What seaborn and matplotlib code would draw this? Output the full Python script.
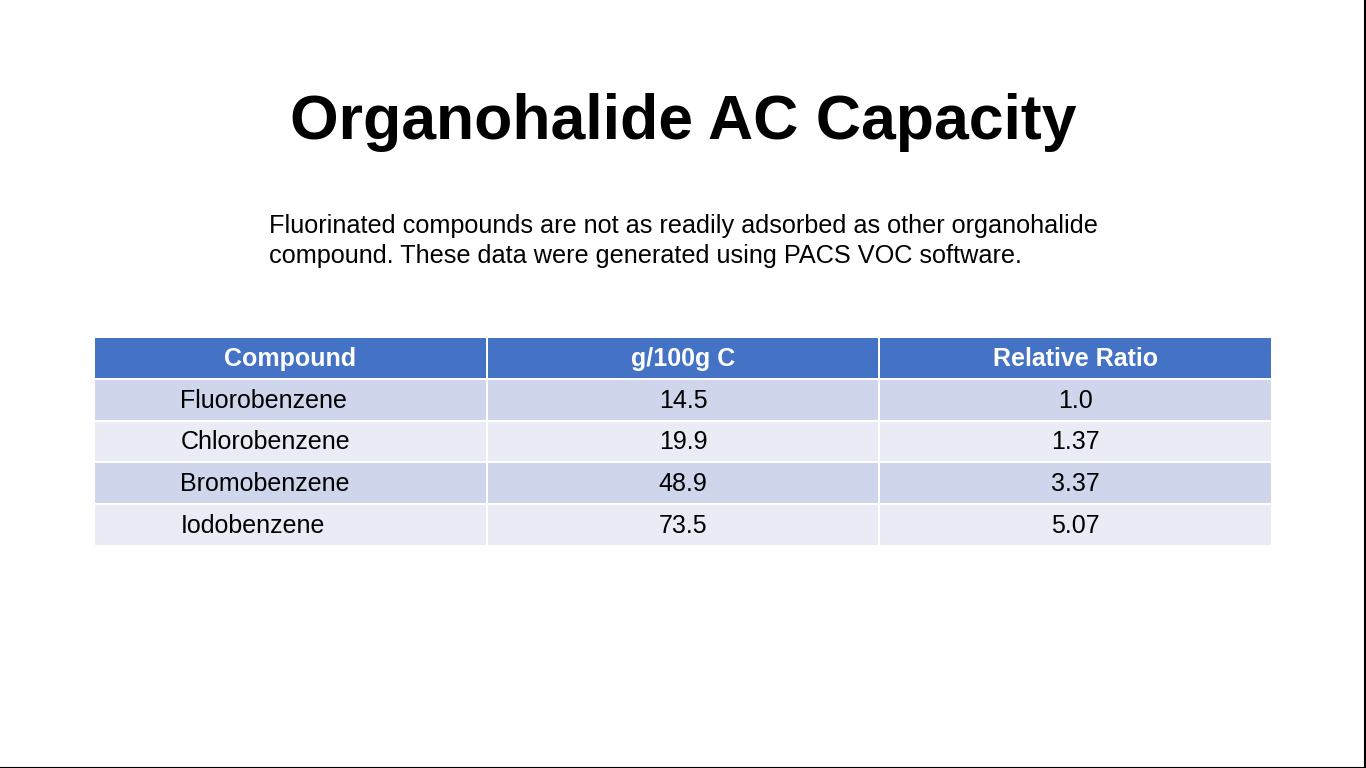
import numpy as np
import pandas as pd
import matplotlib
matplotlib.use("Agg")
import matplotlib.pyplot as plt
from matplotlib.colors import ListedColormap
import seaborn as sns

# table content
columns = ["Compound", "g/100g C", "Relative Ratio"]
compounds = ["Fluorobenzene", "Chlorobenzene", "Bromobenzene", "Iodobenzene"]
capacity = ["14.5", "19.9", "48.9", "73.5"]
ratio = ["1.0", "1.37", "3.37", "5.07"]

title = "Organohalide AC Capacity"
note = ("Fluorinated compounds are not as readily adsorbed as other organohalide\n"
        "compound. These data were generated using PACS VOC software.")

sns.set_theme(style="white")
plt.rcParams["font.family"] = ["Liberation Sans", "DejaVu Sans"]

W, H = 1366, 768
fig = plt.figure(figsize=(W / 100, H / 100), dpi=100)
fig.patch.set_facecolor("white")

fig.text(683 / W, 1 - 122 / H, title, ha="center", va="center",
         fontsize=45, fontweight="bold", color="black")
fig.text(269 / W, 1 - 241 / H, note, ha="left", va="center",
         fontsize=18.2, color="black", linespacing=1.3)

# band index per cell: 0 header, 1 dark stripe, 2 light stripe
n_rows = len(compounds) + 1
bands = np.zeros((n_rows, len(columns)))
for i in range(1, n_rows):
    bands[i, :] = 1 if i % 2 == 1 else 2
band_df = pd.DataFrame(bands, columns=columns)

ax = fig.add_axes([94 / W, 1 - 546 / H, (1272 - 94) / W, (546 - 337) / H])
cmap = ListedColormap(["#4472C4", "#CFD5EA", "#E9EBF5"])
sns.heatmap(band_df, ax=ax, cmap=cmap, vmin=-0.5, vmax=2.5, cbar=False,
            linewidths=1.2, linecolor="white", xticklabels=False, yticklabels=False)

fs = 18
for j, name in enumerate(columns):
    ax.text(j + 0.5, 0.52, name, ha="center", va="center",
            fontsize=fs, fontweight="bold", color="white")
for i in range(len(compounds)):
    y = i + 1.52
    ax.text(0.22, y, compounds[i], ha="left", va="center", fontsize=fs, color="black")
    ax.text(1.5, y, capacity[i], ha="center", va="center", fontsize=fs, color="black")
    ax.text(2.5, y, ratio[i], ha="center", va="center", fontsize=fs, color="black")

# slide edge lines on right and bottom
fig.add_artist(plt.Line2D([1 - 1 / W, 1 - 1 / W], [0, 1], color="black", lw=1.5))
fig.add_artist(plt.Line2D([0, 1], [0.5 / H, 0.5 / H], color="black", lw=1.5))

fig.savefig("out.png", dpi=100)
